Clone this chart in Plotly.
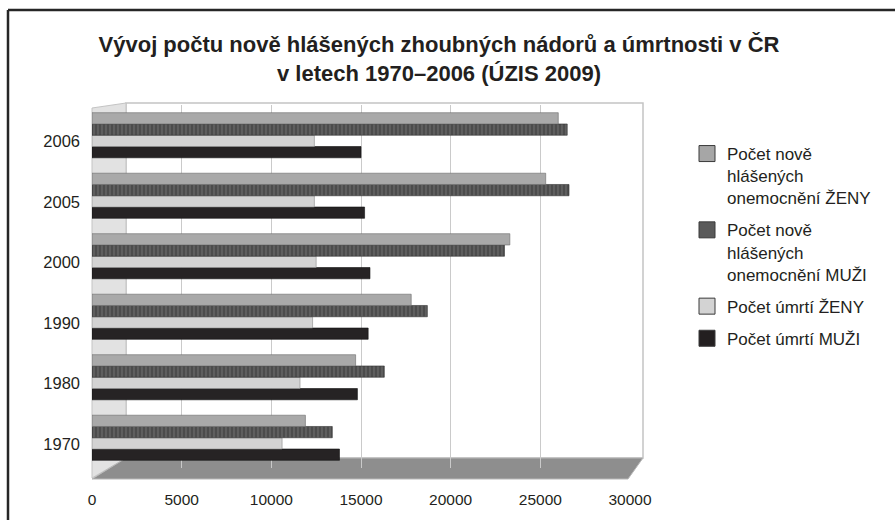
import plotly.graph_objects as go

# ---- data ----
years = ["1970", "1980", "1990", "2000", "2005", "2006"]
incidence_women = [11900, 14700, 17800, 23300, 25300, 26000]
incidence_men = [13400, 16300, 18700, 23000, 26600, 26500]
deaths_women = [10600, 11600, 12300, 12500, 12400, 12400]
deaths_men = [13800, 14800, 15400, 15500, 15200, 15000]
x_ticks = [0, 5000, 10000, 15000, 20000, 25000, 30000]

names = {
    "iz": "Počet nově<br>hlášených<br>onemocnění ŽENY",
    "im": "Počet nově<br>hlášených<br>onemocnění MUŽI",
    "dz": "Počet úmrtí ŽENY",
    "dm": "Počet úmrtí MUŽI",
}

FONT = "Liberation Sans, Arial, Helvetica, sans-serif"
TXT = "#231f20"

# plot-area geometry (pixels) used for decorative 3D-look shapes
L, R, T, B = 92, 630, 105, 468
W, H = 895, 520


def px(x):
    return (x - L) / (R - L)


def py(y):
    return (B - y) / (B - T)


styles = {
    "dm": dict(color="#262324", line=dict(color="#111", width=0.6)),
    "dz": dict(color="#d3d3d3", line=dict(color="#8a8a8a", width=0.6)),
    "im": dict(color="#555555", line=dict(color="#333", width=0.6),
               pattern=dict(shape="|", fgcolor="#8a8a8a", bgcolor="#4c4c4c", size=4, solidity=0.3)),
    "iz": dict(color="#a9a9a9", line=dict(color="#6a6a6a", width=0.6)),
}
legend_colors = {"dm": "#231f20", "dz": "#d3d3d3", "im": "#5a5a5a", "iz": "#a6a6a6"}

series = [("dm", deaths_men), ("dz", deaths_women), ("im", incidence_men), ("iz", incidence_women)]

fig = go.Figure()
# bottom-to-top within each group
for key, vals in series:
    fig.add_trace(go.Bar(y=years, x=vals, orientation="h", name=names[key],
                         marker=styles[key], showlegend=False))
# legend entries with larger square symbols (top-to-bottom order)
for key in ["iz", "im", "dz", "dm"]:
    fig.add_trace(go.Scatter(x=[None], y=[None], mode="markers", name=names[key],
                             legendgroup=key, showlegend=True,
                             marker=dict(symbol="square", size=20, color=legend_colors[key],
                                         line=dict(color="#3a3a3a", width=1))))

shapes = []
# back wall
shapes.append(dict(type="rect", xref="paper", yref="paper", layer="below",
                   x0=px(126), x1=px(643), y0=py(458), y1=py(103),
                   fillcolor="white", line=dict(color="#c4c4c4", width=1.5)))
# left wall
shapes.append(dict(type="path", xref="paper", yref="paper", layer="below",
                   path=f"M {px(92)},{py(108)} L {px(126)},{py(103)} L {px(126)},{py(458)} L {px(92)},{py(478)} Z",
                   fillcolor="#e2e2e2", line=dict(color="#c4c4c4", width=1)))
# floor
shapes.append(dict(type="path", xref="paper", yref="paper", layer="below",
                   path=f"M {px(92)},{py(479)} L {px(628)},{py(479)} L {px(643)},{py(458)} L {px(126)},{py(458)} Z",
                   fillcolor="#8e8e8e", line=dict(color="#b8b8b8", width=1)))
# outer frame (top and left)
shapes.append(dict(type="line", xref="paper", yref="paper", layer="above",
                   x0=px(8), x1=px(W + 5), y0=py(10), y1=py(10),
                   line=dict(color="#262626", width=2.5)))
shapes.append(dict(type="line", xref="paper", yref="paper", layer="above",
                   x0=px(8), x1=px(8), y0=py(10), y1=py(H + 5),
                   line=dict(color="#262626", width=2.5)))

fig.update_layout(
    width=W, height=H,
    margin=dict(l=L, r=W - R, t=T, b=H - B, autoexpand=False),
    paper_bgcolor="white", plot_bgcolor="rgba(0,0,0,0)",
    barmode="group", bargap=0.255, bargroupgap=0,
    font=dict(family=FONT, color=TXT),
    title=dict(text="<b>Vývoj počtu nově hlášených zhoubných nádorů a úmrtnosti v ČR<br>v letech 1970–2006 (ÚZIS 2009)</b>",
               x=0.4905, xanchor="center", xref="container",
               y=1 - 52 / H, yanchor="middle", yref="container",
               font=dict(size=22, family=FONT, color=TXT)),
    xaxis=dict(range=[0, 30000], tickvals=x_ticks, ticktext=[str(v) for v in x_ticks],
               showgrid=True, gridcolor="#cacaca", gridwidth=1, zeroline=False,
               showline=False, ticks="", ticklabelstandoff=20,
               tickfont=dict(size=15.5, family=FONT, color=TXT)),
    yaxis=dict(type="category", categoryorder="array", categoryarray=years,
               showgrid=False, zeroline=False, showline=False, ticks="",
               ticklabelstandoff=11, ticklabelshift=6,
               tickfont=dict(size=16.5, family=FONT, color=TXT)),
    legend=dict(x=px(687), xanchor="left", y=py(136), yanchor="top",
                traceorder="grouped", valign="top", tracegroupgap=7,
                itemsizing="trace",
                font=dict(size=17, family=FONT, color=TXT),
                bgcolor="rgba(0,0,0,0)", itemclick=False),
    shapes=shapes,
)

fig.write_html("out.html", config={"displayModeBar": False},
               post_script="document.body.style.margin='0px';")
